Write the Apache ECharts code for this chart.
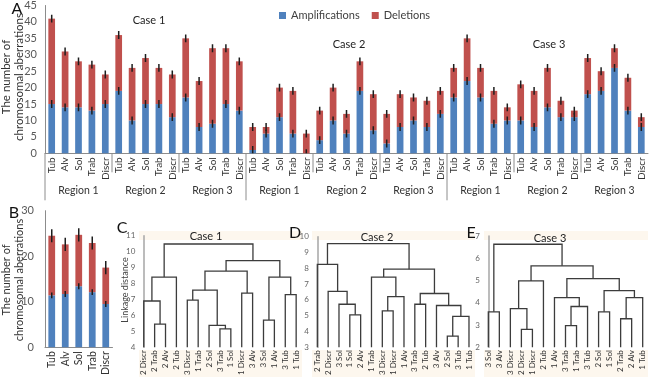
<!DOCTYPE html>
<html>
<head>
<meta charset="utf-8">
<script src="https://cdn.jsdelivr.net/npm/echarts@6/dist/echarts.min.js"></script>
<style>
  html, body { margin: 0; padding: 0; background: #fff; }
  #main { width: 650px; height: 378px; }
</style>
</head>
<body>
<div id="main"></div>
<script>
// panel A: 3 cases x 3 regions x 5 growth patterns
var types = ['Tub', 'Alv', 'Sol', 'Trab', 'Discr'];
var regionNames = ['Region 1', 'Region 2', 'Region 3', 'Region 1', 'Region 2', 'Region 3', 'Region 1', 'Region 2', 'Region 3'];
var caseNames = ['Case 1', 'Case 2', 'Case 3'];
var ampA = [15, 14, 14, 13, 15, 19, 10, 15, 15, 11, 17, 8, 9, 15, 13,
            1, 6, 11, 6, 0, 4, 10, 6, 19, 7, 3, 8, 10, 8, 12,
            17, 22, 17, 9, 10, 10, 8, 14, 11, 11, 18, 19, 26, 13, 8];
var totalA = [41, 31, 28, 27, 24, 36, 26, 29, 26, 24, 35, 22, 32, 32, 28,
              8, 8, 20, 19, 6, 13, 20, 12, 28, 18, 12, 18, 17, 16, 19,
              26, 35, 26, 19, 14, 21, 19, 26, 16, 13, 29, 25, 32, 23, 11];
var errA = 1.2;

// panel B: mean per growth pattern
var ampB = [11.4, 11.7, 13.4, 12.1, 9.5];
var totalB = [24.5, 22.6, 24.7, 22.9, 17.5];
var errAmpB = 0.65;
var errTotB = 1.45;

// dendrograms: leaf order + merges [nodeA, nodeB, height], new nodes numbered from 15
var leaves1 = ['2 Discr', '2 Trab', '2 Alv', '2 Tub', '3 Discr', '1 Trab', '2 Sol', '3 Trab', '1 Sol', '1 Discr', '3 Alv', '3 Sol', '1 Alv', '3 Tub', '1 Tub'];
var merges1 = [[1, 2, 5.45], [0, 15, 6.9], [16, 3, 8.4], [7, 8, 5.15], [6, 18, 5.37], [4, 5, 6.96], [20, 19, 7.58],
               [9, 10, 7.4], [21, 22, 8.78], [11, 12, 5.7], [13, 14, 7.3], [24, 25, 8.4], [23, 26, 9.44], [17, 27, 10.48]];
var leaves2 = ['2 Trab', '2 Discr', '3 Sol', '1 Sol', '2 Alv', '1 Trab', '3 Discr', '1 Discr', '1 Alv', '3 Trab', '2 Tub', '3 Alv', '2 Sol', '3 Tub', '1 Tub'];
var merges2 = [[3, 4, 5.05], [2, 15, 5.72], [1, 16, 6.53], [0, 17, 8.25], [6, 7, 5.3], [19, 8, 6.2], [5, 20, 7.44],
               [9, 10, 5.72], [12, 13, 3.7], [23, 14, 4.95], [11, 24, 5.64], [22, 25, 6.4], [21, 26, 7.94], [18, 27, 9.56]];
var leaves3 = ['3 Sol', '3 Alv', '3 Discr', '2 Discr', '1 Discr', '2 Tub', '1 Alv', '3 Trab', '1 Trab', '3 Tub', '2 Sol', '1 Sol', '2 Trab', '2 Alv', '1 Tub'];
var merges3 = [[0, 1, 3.59], [3, 4, 2.8], [2, 16, 3.73], [17, 5, 4.98], [7, 8, 2.97], [19, 9, 3.83], [6, 20, 4.23],
               [10, 11, 3.59], [12, 13, 3.28], [23, 14, 4.23], [22, 24, 4.54], [21, 25, 5.08], [18, 26, 5.66], [15, 27, 6.63]];

var BLUE = '#4f81bd', RED = '#c0504d';
var FONT = 'Lato';

var catsA = [];
regionNames.forEach(function() { catsA = catsA.concat(types); });
var delA = totalA.map(function(t, i) { return t - ampA[i]; });
var delB = totalB.map(function(t, i) { return +(t - ampB[i]).toFixed(2); });

function errData(vals, err) {
  return vals.map(function(v, i) { return [i, v, err]; });
}

function renderErr(params, api) {
  var top = api.coord([api.value(0), api.value(1) + api.value(2)]);
  var bot = api.coord([api.value(0), api.value(1) - api.value(2)]);
  return {
    type: 'line',
    shape: { x1: top[0], y1: top[1], x2: bot[0], y2: bot[1] },
    style: { stroke: '#1e1e1e', lineWidth: 1.5 }
  };
}

function renderRegion(params, api) {
  var r = api.value(0);
  var band = api.size([1, 0])[0];
  var base = api.coord([r * 5, 0]);
  var x0 = base[0] - band / 2;
  var mid = api.coord([r * 5 + 2, 0])[0];
  var len = (r % 3 === 0) ? 47 : 19;
  return {
    type: 'group',
    children: [
      { type: 'line', shape: { x1: x0, y1: base[1], x2: x0, y2: base[1] + len },
        style: { stroke: '#8c8c8c', lineWidth: 1 } },
      { type: 'text', x: mid, y: base[1] + 37,
        style: { text: regionNames[r], fill: '#333', font: '10.5px ' + FONT, align: 'center', verticalAlign: 'middle' } }
    ]
  };
}

function buildLinks(n, merges, base) {
  var xs = [], hs = [];
  for (var i = 0; i < n; i++) { xs.push(i); hs.push(base); }
  return merges.map(function(m) {
    var a = m[0], b = m[1];
    xs.push((xs[a] + xs[b]) / 2);
    hs.push(m[2]);
    return [xs[a], hs[a], xs[b], hs[b], m[2]];
  });
}

function renderLink(params, api) {
  var a0 = api.coord([api.value(0), api.value(1)]);
  var a1 = api.coord([api.value(0), api.value(4)]);
  var b1 = api.coord([api.value(2), api.value(4)]);
  var b0 = api.coord([api.value(2), api.value(3)]);
  return {
    type: 'polyline',
    shape: { points: [a0, a1, b1, b0] },
    style: { stroke: '#3c3c3c', lineWidth: 1.3, fill: null }
  };
}

function leafAxis(grid, data) {
  return {
    type: 'category', gridIndex: grid, data: data, boundaryGap: true,
    axisLine: { show: false }, axisTick: { show: false },
    axisLabel: { rotate: 90, fontSize: 8, color: '#333', margin: 3, interval: 0, fontFamily: FONT }
  };
}
function linkAxis(grid) {
  return { type: 'value', gridIndex: grid, min: -0.5, max: 14.5, show: false };
}
function distAxis(grid, min, max) {
  return {
    type: 'value', gridIndex: grid, min: min, max: max, interval: 1,
    axisLine: { show: true, lineStyle: { color: '#a6a6a6', width: 1.5 } },
    axisTick: { show: false }, splitLine: { show: false },
    axisLabel: { fontSize: 8, color: '#666', margin: 3, fontFamily: FONT }
  };
}

function yTitle(x, y, size) {
  return {
    type: 'text', x: x, y: y, rotation: Math.PI / 2,
    style: { text: 'The number of\nchromosomal aberrations', font: size + 'px ' + FONT, fill: '#333',
             align: 'center', verticalAlign: 'middle', lineHeight: 12.5 }
  };
}
function label(text, x, y, size) {
  return { type: 'text', x: x, y: y,
    style: { text: text, font: size + 'px ' + FONT, fill: '#222', align: 'center', verticalAlign: 'middle' } };
}
function band(x, y, w, h) {
  return { type: 'rect', z: -10, shape: { x: x, y: y, width: w, height: h }, style: { fill: '#fdf7ee' } };
}

var chart = echarts.init(document.getElementById('main'));

var option = {
  animation: false,
  textStyle: { fontFamily: FONT },
  legend: {
    data: ['Amplifications', 'Deletions'],
    left: 274, top: 5, icon: 'rect', itemWidth: 7, itemHeight: 7, itemGap: 12,
    textStyle: { fontSize: 11, color: '#404040', fontFamily: FONT }
  },
  grid: [
    { left: 45, top: 5, width: 603, height: 148.3 },
    { left: 45, top: 210.7, width: 67.5, height: 137.3 },
    { left: 138.3, top: 235.7, width: 163.3, height: 112.6 },
    { left: 311.9, top: 236.7, width: 162.5, height: 112.3 },
    { left: 482.8, top: 236, width: 165.4, height: 113 }
  ],
  xAxis: [
    { type: 'category', gridIndex: 0, data: catsA,
      axisLine: { lineStyle: { color: '#8c8c8c' } }, axisTick: { show: false },
      axisLabel: { rotate: 90, interval: 0, fontSize: 10, color: '#333', margin: 4, fontFamily: FONT } },
    { type: 'category', gridIndex: 1, data: types,
      axisLine: { lineStyle: { color: '#8c8c8c' } }, axisTick: { show: false },
      axisLabel: { rotate: 90, interval: 0, fontSize: 10.5, color: '#333', margin: 4, fontFamily: FONT } },
    leafAxis(2, leaves1), linkAxis(2),
    leafAxis(3, leaves2), linkAxis(3),
    leafAxis(4, leaves3), linkAxis(4)
  ],
  yAxis: [
    { type: 'value', gridIndex: 0, min: 0, max: 45, interval: 5,
      axisLine: { show: true, lineStyle: { color: '#8c8c8c' } }, axisTick: { show: false }, splitLine: { show: false },
      axisLabel: { fontSize: 11, color: '#595959', margin: 8, fontFamily: FONT } },
    { type: 'value', gridIndex: 1, min: 0, max: 30, interval: 10,
      axisLine: { show: true, lineStyle: { color: '#8c8c8c' } }, axisTick: { show: false }, splitLine: { show: false },
      axisLabel: { fontSize: 11, color: '#595959', margin: 11, fontFamily: FONT } },
    distAxis(2, 4, 11),
    distAxis(3, 3, 10),
    distAxis(4, 2, 7)
  ],
  series: [
    { name: 'Amplifications', type: 'bar', stack: 'A', xAxisIndex: 0, yAxisIndex: 0, barWidth: '50%',
      itemStyle: { color: BLUE }, data: ampA },
    { name: 'Deletions', type: 'bar', stack: 'A', xAxisIndex: 0, yAxisIndex: 0, barWidth: '50%',
      itemStyle: { color: RED }, data: delA },
    { type: 'custom', xAxisIndex: 0, yAxisIndex: 0, clip: true, z: 5, renderItem: renderErr, data: errData(ampA, errA) },
    { type: 'custom', xAxisIndex: 0, yAxisIndex: 0, clip: true, z: 5, renderItem: renderErr, data: errData(totalA, errA) },
    { type: 'custom', xAxisIndex: 0, yAxisIndex: 0, clip: false, z: 5, renderItem: renderRegion,
      data: regionNames.map(function(n, i) { return [i, 0]; }) },

    { name: 'Amplifications', type: 'bar', stack: 'B', xAxisIndex: 1, yAxisIndex: 1, barWidth: '50%',
      itemStyle: { color: BLUE }, data: ampB },
    { name: 'Deletions', type: 'bar', stack: 'B', xAxisIndex: 1, yAxisIndex: 1, barWidth: '50%',
      itemStyle: { color: RED }, data: delB },
    { type: 'custom', xAxisIndex: 1, yAxisIndex: 1, clip: true, z: 5, renderItem: renderErr, data: errData(ampB, errAmpB) },
    { type: 'custom', xAxisIndex: 1, yAxisIndex: 1, clip: true, z: 5, renderItem: renderErr, data: errData(totalB, errTotB) },

    { type: 'custom', xAxisIndex: 3, yAxisIndex: 2, renderItem: renderLink, encode: { x: 0, y: 4 },
      data: buildLinks(leaves1.length, merges1, 4) },
    { type: 'custom', xAxisIndex: 5, yAxisIndex: 3, renderItem: renderLink, encode: { x: 0, y: 4 },
      data: buildLinks(leaves2.length, merges2, 3) },
    { type: 'custom', xAxisIndex: 7, yAxisIndex: 4, renderItem: renderLink, encode: { x: 0, y: 4 },
      data: buildLinks(leaves3.length, merges3, 2) }
  ],
  graphic: [
    band(139, 231, 163, 9), band(139, 350, 163, 27),
    band(312, 231, 163, 9), band(312, 350, 163, 27),
    band(484, 231, 164, 9), band(484, 350, 164, 27),
    { type: 'text', x: 17, y: 9, style: { text: 'A', font: '16px ' + FONT, fill: '#111', align: 'center', verticalAlign: 'middle' } },
    { type: 'text', x: 14, y: 213, style: { text: 'B', font: '16px ' + FONT, fill: '#111', align: 'center', verticalAlign: 'middle' } },
    { type: 'text', x: 122, y: 228, style: { text: 'C', font: '16px ' + FONT, fill: '#111', align: 'center', verticalAlign: 'middle' } },
    { type: 'text', x: 295, y: 233, style: { text: 'D', font: '16px ' + FONT, fill: '#111', align: 'center', verticalAlign: 'middle' } },
    { type: 'text', x: 471, y: 233, style: { text: 'E', font: '16px ' + FONT, fill: '#111', align: 'center', verticalAlign: 'middle' } },
    yTitle(13, 77, 11.5),
    yTitle(13, 280, 11),
    label(caseNames[0], 149, 20, 11),
    label(caseNames[1], 349, 44, 11),
    label(caseNames[2], 549, 44, 11),
    label(caseNames[0], 206, 236, 11),
    label(caseNames[1], 377, 237, 11),
    label(caseNames[2], 550, 238, 11),
    { type: 'text', x: 125, y: 290, rotation: Math.PI / 2,
      style: { text: 'Linkage distance', font: '9px ' + FONT, fill: '#444', align: 'center', verticalAlign: 'middle' } }
  ]
};

chart.setOption(option);
</script>
</body>
</html>
